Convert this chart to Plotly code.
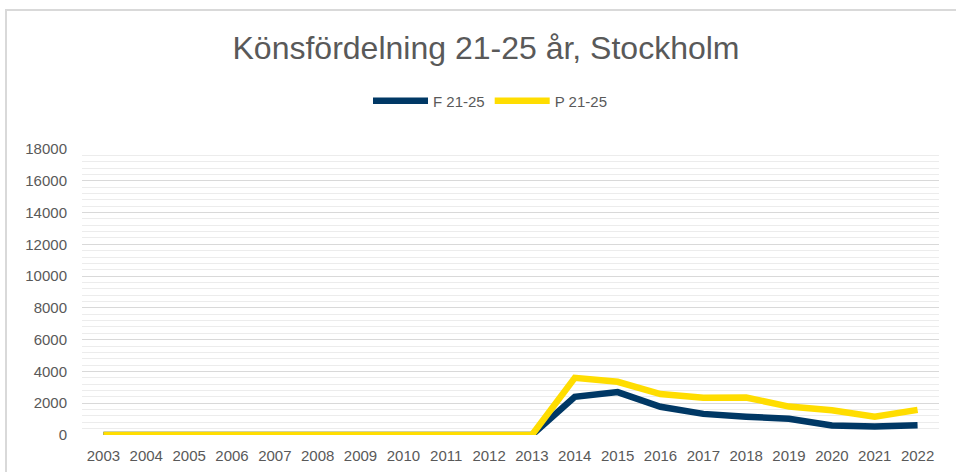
import plotly.graph_objects as go

years = list(range(2003, 2023))
f_vals = [0, 0, 0, 0, 0, 0, 0, 0, 0, 0, 0, 2400, 2700, 1780, 1330, 1150, 1020, 600, 530, 620]
p_vals = [0, 0, 0, 0, 0, 0, 0, 0, 0, 0, 0, 3600, 3350, 2580, 2350, 2360, 1790, 1560, 1150, 1580]
y_ticks = list(range(0, 18001, 2000))

W, H = 956, 472
L, R, T, B = 82, 17, 149, 37
pw, ph = W - L - R, H - T - B

def px(x):
    return (x - L) / pw

def py(y):
    return (H - B - y) / ph

fig = go.Figure()
fig.add_trace(go.Scatter(x=years, y=f_vals, name="F 21-25", mode="lines",
                         line=dict(color="#003865", width=6.5), hoverinfo="skip"))
fig.add_trace(go.Scatter(x=years, y=p_vals, name="P 21-25", mode="lines",
                         line=dict(color="#FFDD00", width=6.5), hoverinfo="skip"))

fig.update_layout(
    width=W, height=H,
    margin=dict(l=L, r=R, t=T, b=B, autoexpand=False),
    paper_bgcolor="white", plot_bgcolor="white",
    font=dict(family="Liberation Sans, Arial, sans-serif", color="#595959", size=15),
    title=dict(text="Könsfördelning 21-25 år, Stockholm", x=486 / W, xref="container",
               xanchor="center", y=1 - 48 / H, yanchor="middle",
               font=dict(size=32, color="#595959")),
    showlegend=True,
    legend=dict(orientation="h", x=490 / W, xanchor="center", xref="container",
                y=py(101), yanchor="middle", font=dict(size=15, color="#595959"),
                itemwidth=55, tracegroupgap=0, bgcolor="rgba(0,0,0,0)"),
    xaxis=dict(tickmode="array", tickvals=years, ticktext=[str(y) for y in years],
               range=[2002.5, 2022.5], showgrid=False, zeroline=False, showline=False,
               ticks="", ticklabelstandoff=10,
               tickfont=dict(size=15, color="#595959"), fixedrange=True),
    yaxis=dict(range=[0, 18000], tickmode="array", tickvals=y_ticks,
               ticktext=[str(v) for v in y_ticks], showgrid=True,
               gridcolor="#d9d9d9", gridwidth=1, zeroline=False, showline=False,
               ticks="", ticklabelstandoff=14,
               minor=dict(dtick=400, showgrid=True, gridcolor="#ececec", gridwidth=1),
               tickfont=dict(size=15, color="#595959"), fixedrange=True),
    shapes=[dict(type="rect", xref="paper", yref="paper",
                 x0=px(6), x1=px(W + 20), y0=py(H + 20), y1=py(10),
                 line=dict(color="#d9d9d9", width=2), fillcolor="rgba(0,0,0,0)",
                 layer="below")],
)

fig.write_html("out.html", config={"displayModeBar": False},
               post_script="document.body.style.margin='0';document.body.style.overflow='hidden';")
